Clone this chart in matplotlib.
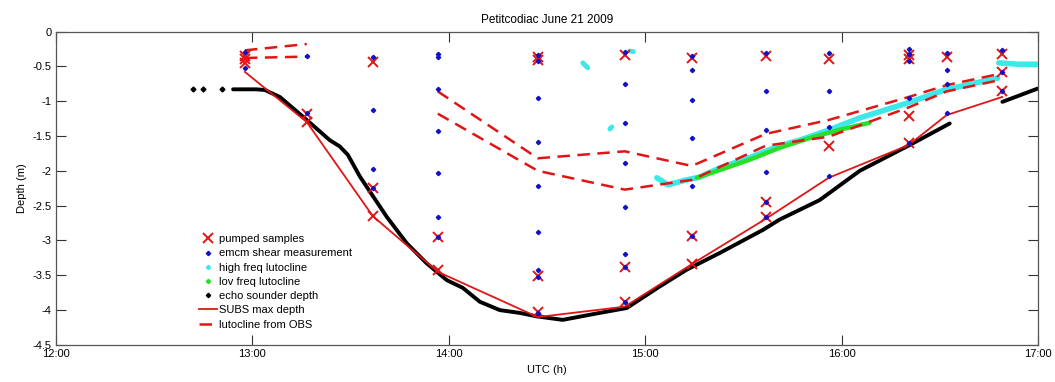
import matplotlib
matplotlib.use("Agg")
import matplotlib.pyplot as plt
import numpy as np
from matplotlib.lines import Line2D

# ---------------- data (time in decimal hours UTC, depth in m) ----------------
col_t = [12.962, 13.277, 13.613, 13.944, 14.453, 14.896, 15.237, 15.613, 15.934, 16.341, 16.534, 16.817]

emcm_depths = [
    [-0.29, -0.52],
    [-0.35, -1.17],
    [-0.36, -1.13, -1.97, -2.24],
    [-0.32, -0.37, -0.82, -1.43, -2.03, -2.66, -2.95],
    [-0.34, -0.42, -0.95, -1.59, -2.22, -2.88, -3.43, -3.53, -4.04],
    [-0.30, -0.75, -1.31, -1.89, -2.52, -3.19, -3.38, -3.88],
    [-0.35, -0.55, -0.98, -1.53, -2.22, -2.94],
    [-0.31, -0.85, -1.41, -2.01, -2.45, -2.67],
    [-0.31, -0.85, -1.37, -2.07],
    [-0.25, -0.32, -0.43, -0.95, -1.60],
    [-0.31, -0.55, -0.76, -1.17],
    [-0.27, -0.58, -0.85],
]

pumped_depths = [
    [-0.35, -0.40, -0.45],
    [-1.18, -1.30],
    [-0.44, -2.24, -2.65],
    [-2.95, -3.43],
    [-0.36, -0.41, -3.51, -4.03],
    [-0.34, -3.38, -3.88],
    [-0.38, -2.94, -3.34],
    [-0.35, -2.45, -2.67],
    [-0.39, -1.65],
    [-0.34, -0.40, -1.21, -1.60],
    [-0.36],
    [-0.32, -0.58, -0.85],
]

subs_depth = [-0.58, -1.30, -2.65, -3.45, -4.10, -3.95, -3.34, -2.69, -2.10, -1.63, -1.20, -0.94]

obs_t = [12.962, 13.277, np.nan, 13.944, 14.453, 14.896, 15.237, 15.613, 15.934, 16.341, 16.534, 16.817]
obs_upper = [-0.27, -0.18, np.nan, -0.86, -1.82, -1.72, -1.93, -1.47, -1.27, -0.94, -0.77, -0.60]
obs_lower = [-0.38, -0.36, np.nan, -1.18, -2.00, -2.27, -2.13, -1.64, -1.51, -1.09, -0.86, -0.69]

echo_iso_t = [12.699, 12.747, 12.848]
echo_iso_d = [-0.83, -0.83, -0.83]
echo_t = [12.902, 13.021, 13.064, 13.140, 13.277, 13.394, 13.445, 13.486, 13.547, 13.613,
          13.684, 13.786, 13.888, 13.990, 14.071, 14.158, 14.260, 14.361, 14.448, 14.580,
          14.768, 14.906, 15.074, 15.211, 15.379, 15.598, 15.684, 15.888, 16.092, 16.346,
          16.550, np.nan, 16.818, 16.997]
echo_d = [-0.83, -0.83, -0.84, -0.94, -1.27, -1.56, -1.65, -1.77, -2.08, -2.36,
          -2.66, -3.04, -3.33, -3.57, -3.68, -3.88, -4.00, -4.04, -4.09, -4.14,
          -4.04, -3.97, -3.66, -3.42, -3.18, -2.85, -2.70, -2.42, -2.00, -1.63,
          -1.32, np.nan, -1.01, -0.82]

hf_t = [15.059, 15.115, 15.211, 15.277, 15.379, 15.532, 15.684, 15.786, 15.939, 16.092, 16.331, 16.534, 16.794]
hf_d = [-2.10, -2.20, -2.13, -2.09, -1.96, -1.81, -1.64, -1.56, -1.41, -1.24, -1.03, -0.83, -0.67]
hf_top_t = [16.800, 16.900, 16.997]
hf_top_d = [-0.45, -0.47, -0.47]
hf_blob_t = [[14.682, 14.707], [14.820, 14.830], [14.921, 14.940]]
hf_blob_d = [[-0.45, -0.52], [-1.40, -1.37], [-0.28, -0.29]]

lf_t = [15.262, 15.379, 15.532, 15.684, 15.837, 15.990, 16.142]
lf_d = [-2.10, -1.99, -1.84, -1.67, -1.53, -1.41, -1.31]

x_ticks = [12, 13, 14, 15, 16, 17]
x_labels = ["12:00", "13:00", "14:00", "15:00", "16:00", "17:00"]
y_ticks = [0, -0.5, -1, -1.5, -2, -2.5, -3, -3.5, -4, -4.5]
y_labels = ["0", "-0.5", "-1", "-1.5", "-2", "-2.5", "-3", "-3.5", "-4", "-4.5"]

# ---------------- style ----------------
plt.rcParams['font.family'] = ['Liberation Sans', 'DejaVu Sans']
plt.rcParams['axes.unicode_minus'] = False
RED = '#e01515'
BLUE = '#1010c8'
CYAN = '#3ce8e8'
GREEN = '#28e028'

fig = plt.figure(figsize=(10.55, 3.82), dpi=100)
ax = fig.add_axes([0.053, 0.097, 0.931, 0.8205])

# echo sounder
ax.plot(echo_t, echo_d, color='black', lw=2.8, solid_capstyle='round', zorder=2)
ax.plot(echo_iso_t, echo_iso_d, linestyle='none', marker='D', ms=2.5, color='black', zorder=2)

# SUBS max depth
ax.plot(col_t, subs_depth, color=RED, lw=1.3, zorder=3)

# high freq lutocline
ax.plot(hf_t, hf_d, color=CYAN, lw=4.0, solid_capstyle='round', zorder=3)
ax.plot(hf_top_t, hf_top_d, color=CYAN, lw=4.0, solid_capstyle='round', zorder=3)
for bt, bd in zip(hf_blob_t, hf_blob_d):
    ax.plot(bt, bd, color=CYAN, lw=3.5, solid_capstyle='round', zorder=3)

# low freq lutocline
ax.plot(lf_t, lf_d, color=GREEN, lw=3.2, solid_capstyle='round', zorder=3)

# lutocline from OBS
ax.plot(obs_t, obs_upper, color=RED, lw=1.8, linestyle=(0, (5, 3)), zorder=4)
ax.plot(obs_t, obs_lower, color=RED, lw=1.8, linestyle=(0, (5, 3)), zorder=4)

# pumped samples and emcm
for t, ds in zip(col_t, pumped_depths):
    ax.plot([t] * len(ds), ds, linestyle='none', marker='x', ms=6.5, mew=1.4, color=RED, zorder=5)
for t, ds in zip(col_t, emcm_depths):
    ax.plot([t] * len(ds), ds, linestyle='none', marker='D', ms=2.2, color=BLUE, zorder=6)

ax.set_xlim(12, 17)
ax.set_ylim(-4.5, 0)
ax.set_xticks(x_ticks)
ax.set_xticklabels(x_labels)
ax.set_yticks(y_ticks)
ax.set_yticklabels(y_labels)
ax.tick_params(direction='in', length=7, width=0.8, top=True, right=True,
               labelsize=8, colors='#333333', labelcolor='black', pad=3)
for s in ax.spines.values():
    s.set_color('#555555')
    s.set_linewidth(0.9)

ax.set_title("Petitcodiac June 21 2009", fontsize=8.5, pad=6)
ax.set_xlabel("UTC (h)", fontsize=8, labelpad=4)
ax.set_ylabel("Depth (m)", fontsize=8, labelpad=4)

handles = [
    Line2D([], [], linestyle='none', marker='x', ms=6.5, mew=1.4, color=RED),
    Line2D([], [], linestyle='none', marker='D', ms=2.2, color=BLUE),
    Line2D([], [], linestyle='none', marker='D', ms=2.2, color=CYAN),
    Line2D([], [], linestyle='none', marker='D', ms=2.2, color=GREEN),
    Line2D([], [], linestyle='none', marker='D', ms=2.2, color='black'),
    Line2D([], [], color=RED, lw=1.3),
    Line2D([], [], color=RED, lw=1.8, linestyle=(0, (5, 3))),
]
labels = ["pumped samples", "emcm shear measurement", "high freq lutocline",
          "lov freq lutocline", "echo sounder depth", "SUBS max depth", "lutocline from OBS"]
ax.legend(handles, labels, loc='upper left', bbox_to_anchor=(0.138, 0.378), frameon=False,
          fontsize=8, handlelength=1.6, handletextpad=0.2, labelspacing=0.38, borderpad=0.2)

fig.savefig("out.png", dpi=100)
